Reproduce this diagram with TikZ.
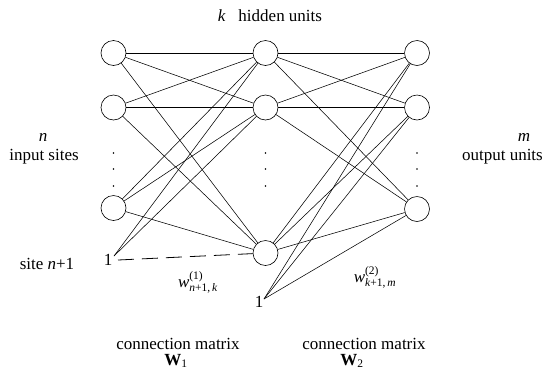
\documentclass[tikz,border=0pt]{standalone}
\usepackage{fontspec}
\setmainfont{Liberation Serif}
\newcommand{\scr}[1]{\mbox{\fontsize{11.5}{12}\selectfont #1}}
\begin{document}
\begin{tikzpicture}[x=1pt,y=-1pt,
  unit/.style={circle,draw,line width=0.6pt,minimum size=25pt,inner sep=0pt},
  conn/.style={line width=0.55pt},
  lbl/.style={font=\fontsize{17}{19}\selectfont,inner sep=0pt},
  dotmark/.style={circle,fill,inner sep=0pt,minimum size=1.6pt}]
\useasboundingbox (0,0) rectangle (545,373);
% units
\node[unit] (i1) at (113.5,53) {};
\node[unit] (i2) at (113.5,107.5) {};
\node[unit] (i3) at (113.5,208) {};
\node[unit] (h1) at (265.5,53) {};
\node[unit] (h2) at (265.5,107.5) {};
\node[unit] (h3) at (265.5,253) {};
\node[unit] (o1) at (417,53) {};
\node[unit] (o2) at (417,107.5) {};
\node[unit] (o3) at (417,209) {};
% bias
\node[lbl] (b1t) at (108,260) {1};
\node[lbl] (b2t) at (259,302) {1};
\coordinate (b1) at (114,256);
\coordinate (b1d) at (118,260);
\coordinate (b2) at (264,299);
% dots
\foreach \c/\x in {a/113.5,b/265.5,c/417}{
  \node[dotmark] (d\c1) at (\x,153) {};
  \node[dotmark] (d\c2) at (\x,169) {};
  \node[dotmark] (d\c3) at (\x,186) {};
}
% layer 1
\foreach \a in {i1,i2,i3}{
  \foreach \b in {h1,h2,h3}{
    \draw[conn] (\a) -- (\b);
  }
}
\draw[conn] (b1) -- (h1);
\draw[conn] (b1) -- (h2);
\draw[line width=0.8pt,dash pattern=on 16pt off 8pt] (b1d) -- (h3);
% layer 2
\foreach \a in {h1,h2,h3,b2}{
  \foreach \b in {o1,o2,o3}{
    \draw[conn] (\a) -- (\b);
  }
}
% labels
\node[lbl] (kl) at (270,16) {\textit{k}\enspace\ hidden units};
\node[lbl] (nl) at (43,137) {\textit{n}};
\node[lbl] (inl) at (44,157) {input sites};
\node[lbl] (ml) at (524,137) {\textit{m}};
\node[lbl,anchor=east] (outl) at (543,157) {output units};
\node[lbl] (site) at (47,264) {site \textit{n}+1};
\node[lbl] (w1) at (198,282) {$\textit{w}^{\scr{(1)}}_{\scr{\textit{n}+1,\,\textit{k}}}$};
\node[lbl] (w2) at (375,277) {$\textit{w}^{\scr{(2)}}_{\scr{\textit{k}+1,\,\textit{m}}}$};
\node[lbl] (cm1) at (178,344) {connection matrix};
\node[lbl] (W1) at (176,361) {\textbf{W}$_{\scr{1}}$};
\node[lbl] (cm2) at (364,344) {connection matrix};
\node[lbl] (W2) at (352,361) {\textbf{W}$_{\scr{2}}$};
\end{tikzpicture}
\end{document}
